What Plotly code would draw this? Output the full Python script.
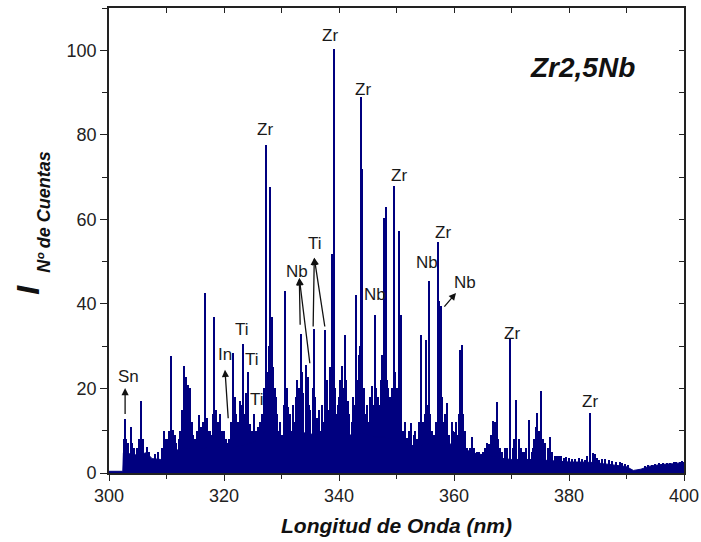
import plotly.graph_objects as go

# ---- data ----
# baseline (continuum) of the spectrum: wavelength (nm), counts
base_nm = [300.0, 302.4, 302.5, 303.5, 305.0, 306.5, 307.5, 309.0, 310.0, 311.0, 313.0, 315.0,
           317.0, 319.0, 320.5, 322.0, 324.0, 325.5, 326.5, 328.0, 329.0, 330.0, 332.0, 334.0,
           336.0, 338.0, 340.0, 342.0, 344.0, 346.0, 348.0, 350.0, 352.0, 354.0, 356.0, 358.0,
           360.0, 362.0, 364.0, 366.0, 368.0, 370.0, 372.0, 374.0, 376.0, 378.0, 380.0, 382.0,
           384.0, 386.0, 388.0, 390.0, 391.2, 392.5, 394.0, 396.0, 398.0, 400.0]
base_val = [0.4, 0.4, 4.8, 4.5, 4.2, 4.8, 3.4, 3.2, 4.0, 5.0, 6.0, 5.5,
            6.0, 6.0, 5.8, 6.2, 6.8, 7.5, 9.0, 11.0, 9.5, 8.5, 9.0, 9.5,
            9.0, 9.5, 9.5, 9.0, 9.5, 8.5, 8.5, 7.5, 6.5, 6.5, 7.0, 6.5,
            7.0, 5.5, 4.5, 4.2, 3.5, 3.2, 3.2, 3.2, 3.0, 2.8, 2.6, 2.6,
            2.5, 2.2, 1.9, 1.5, 0.6, 0.9, 1.6, 2.0, 2.2, 2.5]

# emission lines: wavelength (nm), counts
peak_nm = [302.6, 302.84, 303.0, 303.3, 303.77, 304.0, 304.3, 304.8, 305.2, 305.57, 305.9, 306.0,
           306.56, 307.0, 308.0, 308.5, 309.3, 309.6, 309.9, 310.1, 310.4, 310.73, 311.2, 311.5,
           311.7, 312.1, 312.3, 312.64, 312.9, 313.04, 313.39, 313.6, 313.8, 314.1, 314.4, 314.7,
           315.0, 315.3, 315.65, 315.9, 316.0, 316.4, 316.75, 317.1, 317.3, 317.6, 317.9, 318.1,
           318.32, 318.5, 318.7, 319.0, 319.3, 319.6, 320.0, 320.3, 320.6, 320.9, 321.2, 321.5,
           321.7, 321.9, 322.1, 322.4, 322.8, 323.0, 323.25, 323.5, 323.77, 324.0, 324.17, 324.4,
           324.6, 324.9, 325.2, 325.5, 325.8, 326.0, 326.2, 326.4, 326.6, 326.9, 327.0, 327.3,
           327.5, 327.75, 328.05, 328.3, 328.6, 328.85, 329.0, 329.3, 329.5, 329.8, 330.1, 330.4,
           330.66, 330.9, 331.2, 331.5, 331.7, 332.0, 332.3, 332.5, 332.75, 333.0, 333.45, 333.65,
           333.8, 334.2, 334.4, 334.65, 334.85, 335.0, 335.3, 335.45, 335.65, 335.9, 336.2, 336.5,
           336.8, 337.0, 337.2, 337.57, 337.8, 338.0, 338.2, 338.45, 338.73, 339.15, 339.35, 339.6,
           339.85, 340.0, 340.2, 340.45, 340.7, 341.04, 341.3, 341.6, 341.8, 342.2, 342.5, 342.7,
           342.96, 343.15, 343.4, 343.6, 343.83, 344.05, 344.35, 344.6, 344.85, 345.2, 345.45, 345.7,
           345.95, 346.26, 346.5, 346.8, 347.05, 347.3, 347.55, 347.83, 348.17, 348.4, 348.6, 348.8,
           349.0, 349.3, 349.57, 349.8, 350.1, 350.25, 350.43, 350.6, 350.78, 351.2, 351.5, 351.9,
           352.2, 352.52, 353.0, 353.3, 353.6, 353.9, 354.2, 354.6, 354.9, 355.07, 355.3, 355.65,
           355.9, 356.2, 356.6, 356.9, 357.16, 357.45, 357.74, 357.95, 358.2, 358.45, 358.72, 359.2,
           359.6, 359.9, 360.05, 360.3, 360.5, 360.8, 361.04, 361.39, 361.6, 361.9, 362.0, 362.3,
           362.8, 363.1, 363.5, 364.0, 364.4, 365.0, 365.4, 365.8, 366.09, 366.4, 366.83, 367.13,
           367.42, 367.7, 368.0, 368.4, 368.8, 369.3, 369.78, 370.2, 370.5, 370.85, 371.3, 371.7,
           372.0, 372.3, 372.6, 373.04, 373.5, 373.8, 374.0, 374.3, 374.52, 374.8, 375.1, 375.5,
           375.8, 376.3, 376.7, 377.0, 377.5, 377.9, 378.2, 378.7, 379.2, 379.55, 380.0, 380.5,
           381.0, 381.7, 382.3, 382.8, 383.2, 383.65, 384.2, 384.5, 384.8, 385.3, 385.8, 386.35,
           386.9, 387.5, 388.2, 388.8, 389.2, 389.7, 390.3, 393.2, 393.8, 394.5, 395.0, 395.6,
           396.4, 397.0, 397.5, 398.2, 398.7, 399.3, 399.7]
peak_val = [8.0, 12.8, 8.0, 7.0, 11.0, 7.0, 6.0, 6.0, 8.0, 17.1, 8.0, 7.0,
            6.2, 5.0, 4.5, 5.0, 6.0, 10.0, 8.0, 8.0, 10.0, 27.7, 10.2, 9.0,
            7.0, 8.0, 10.0, 14.9, 12.0, 25.4, 22.8, 16.0, 20.9, 20.0, 12.0, 9.0,
            8.0, 10.0, 13.7, 10.0, 11.0, 12.0, 42.6, 13.0, 10.0, 10.0, 9.0, 14.0,
            36.8, 12.0, 14.9, 12.0, 14.0, 10.0, 10.0, 8.0, 7.0, 8.0, 12.0, 28.4,
            12.0, 18.0, 14.0, 12.0, 17.0, 16.0, 30.6, 14.0, 19.0, 12.0, 24.0, 10.0,
            11.6, 10.0, 14.0, 10.0, 7.0, 11.0, 12.0, 10.0, 14.0, 15.0, 20.0, 77.5,
            24.0, 30.0, 67.6, 37.0, 25.0, 20.0, 18.0, 14.0, 10.0, 12.0, 9.0, 16.0,
            43.1, 20.0, 15.7, 14.0, 10.0, 16.0, 12.0, 18.0, 22.0, 20.0, 33.0, 24.0,
            19.0, 25.6, 18.0, 22.8, 16.0, 15.0, 6.0, 20.0, 34.0, 18.0, 13.0, 15.0,
            10.0, 16.0, 12.0, 33.9, 20.0, 22.0, 15.0, 25.0, 51.7, 100.2, 20.0, 14.0,
            16.0, 18.0, 22.0, 25.2, 20.0, 32.7, 22.0, 17.0, 14.0, 12.0, 18.0, 16.0,
            42.2, 22.0, 28.0, 30.0, 89.0, 72.0, 20.0, 14.0, 16.0, 12.0, 18.0, 20.5,
            16.0, 37.4, 20.0, 18.0, 16.0, 22.0, 28.0, 60.3, 63.0, 22.0, 20.0, 18.0,
            16.0, 20.0, 67.9, 24.0, 20.0, 18.0, 57.2, 16.0, 37.4, 10.0, 12.0, 8.3,
            10.0, 11.9, 9.0, 10.0, 8.0, 12.0, 32.7, 12.0, 14.0, 31.5, 16.0, 45.5,
            14.0, 10.0, 9.0, 12.0, 54.6, 40.6, 39.4, 18.0, 12.0, 14.0, 16.5, 9.0,
            12.0, 10.0, 9.8, 12.0, 9.0, 14.0, 29.0, 30.3, 14.0, 8.0, 10.0, 6.0,
            6.0, 8.5, 6.0, 5.0, 5.0, 5.0, 6.0, 7.0, 6.8, 9.0, 12.2, 12.0,
            16.9, 8.0, 6.0, 5.0, 6.0, 6.0, 31.6, 6.0, 8.0, 17.2, 8.0, 6.0,
            5.0, 5.0, 6.0, 12.5, 5.0, 6.0, 8.0, 11.0, 14.3, 10.0, 19.5, 8.0,
            7.0, 6.0, 8.6, 5.0, 4.0, 4.0, 4.0, 4.0, 3.5, 3.9, 3.5, 3.2,
            3.3, 3.6, 3.3, 3.0, 4.0, 14.3, 4.7, 4.5, 3.5, 3.0, 3.2, 3.2,
            3.0, 2.8, 2.6, 2.5, 2.4, 2.2, 1.8, 1.7, 1.8, 2.0, 2.2, 2.3,
            2.3, 2.4, 2.4, 2.5, 2.5, 2.7, 2.8]

# element labels (text, wavelength, counts)
lab_text = ["Sn", "In", "Ti", "Ti", "Ti", "Nb", "Ti", "Zr", "Zr", "Zr", "Nb", "Zr", "Nb", "Zr", "Nb", "Zr", "Zr"]
lab_x = [303.36, 320.17, 323.07, 324.8, 325.8, 332.64, 335.83, 327.13, 338.43, 344.2, 346.26, 350.43,
         355.25, 358.1, 361.9, 370.0, 383.65]
lab_y = [22.8, 28.0, 33.9, 26.8, 17.3, 47.7, 54.4, 81.3, 103.6, 90.8, 42.2, 70.4,
         49.9, 56.8, 45.0, 32.9, 16.9]

# arrows: head (x, y) and tail (x, y)
arr_hx = [302.8, 320.17, 333.1, 333.1, 335.7, 335.7, 360.35]
arr_hy = [20.1, 24.4, 46.1, 46.1, 50.9, 50.9, 42.6]
arr_tx = [302.8, 320.75, 333.25, 334.96, 335.5, 337.57, 358.1]
arr_ty = [13.6, 12.6, 34.7, 25.6, 34.3, 34.3, 39.0]

x_ticks = [300, 320, 340, 360, 380, 400]
y_ticks = [0, 20, 40, 60, 80, 100]

NAVY = "#00007f"
FONT = "Liberation Sans, Arial, sans-serif"

fig = go.Figure()
fig.add_trace(go.Scatter(x=base_nm, y=base_val, mode="lines", fill="tozeroy",
                         line=dict(color=NAVY, width=1), fillcolor=NAVY,
                         showlegend=False, hoverinfo="skip"))
fig.add_trace(go.Bar(x=peak_nm, y=peak_val, width=0.19,
                     marker=dict(color=NAVY, line=dict(width=0)),
                     showlegend=False))
# helper trace for mirrored (inside) ticks on top/right
fig.add_trace(go.Scatter(x=[None], y=[None], xaxis="x2", yaxis="y2",
                         showlegend=False, hoverinfo="skip"))

axis_common = dict(showline=True, linecolor="#222", linewidth=1.6, showgrid=False,
                   zeroline=False, tickcolor="#222", tickwidth=1.3, automargin=False)

fig.update_layout(
    width=701, height=542,
    margin=dict(l=109, r=17, t=8, b=69),
    paper_bgcolor="white", plot_bgcolor="white",
    bargap=0,
    font=dict(family=FONT, color="#222", size=16),
    xaxis=dict(range=[300, 400], tickmode="array", tickvals=x_ticks,
               ticktext=[str(v) for v in x_ticks], ticks="outside", ticklen=6,
               minor=dict(dtick=10, tick0=300, ticks="outside", ticklen=4, tickcolor="#222"),
               tickfont=dict(size=18, family=FONT, color="#222"), **axis_common),
    yaxis=dict(range=[0, 110], tickmode="array", tickvals=y_ticks,
               ticktext=[str(v) for v in y_ticks], ticks="outside", ticklen=7,
               minor=dict(dtick=10, tick0=0, ticks="outside", ticklen=5, tickcolor="#222"),
               tickfont=dict(size=18, family=FONT, color="#222"), **axis_common),
    xaxis2=dict(overlaying="x", side="top", range=[300, 400], dtick=10, tick0=300,
                ticks="inside", ticklen=5, showticklabels=False, **axis_common),
    yaxis2=dict(overlaying="y", side="right", range=[0, 110], dtick=10, tick0=0,
                ticks="inside", ticklen=5, showticklabels=False, **axis_common),
)

ann = []
for t, x, y in zip(lab_text, lab_x, lab_y):
    ann.append(dict(x=x, y=y, xref="x", yref="y", text=t, showarrow=False,
                    xanchor="center", yanchor="middle",
                    font=dict(size=17, family=FONT, color="#1a1a1a")))
for hx, hy, tx, ty in zip(arr_hx, arr_hy, arr_tx, arr_ty):
    ann.append(dict(x=hx, y=hy, xref="x", yref="y", ax=tx, ay=ty, axref="x", ayref="y",
                    text="", showarrow=True, arrowhead=2, arrowsize=1.1, arrowwidth=1.3,
                    arrowcolor="#111", standoff=0, startstandoff=0))
ann.append(dict(x=0.824, y=0.873, xref="paper", yref="paper", text="<b><i>Zr2,5Nb</i></b>",
                showarrow=False, xanchor="center", yanchor="middle",
                font=dict(size=28, family=FONT, color="#111")))
ann.append(dict(x=0.5, y=-0.112, xref="paper", yref="paper",
                text="<b><i>Longitud de Onda (nm)</i></b>", showarrow=False,
                xanchor="center", yanchor="middle",
                font=dict(size=21, family=FONT, color="#111")))
ann.append(dict(x=-0.141, y=0.394, xref="paper", yref="paper", text="<b><i>I</i></b>",
                showarrow=False, textangle=-90, xanchor="center", yanchor="middle",
                font=dict(size=32, family=FONT, color="#111")))
ann.append(dict(x=-0.112, y=0.561, xref="paper", yref="paper", text="<b><i>Nº de Cuentas</i></b>",
                showarrow=False, textangle=-90, xanchor="center", yanchor="middle",
                font=dict(size=18, family=FONT, color="#111")))
fig.update_layout(annotations=ann)

fig.write_html("out.html")
